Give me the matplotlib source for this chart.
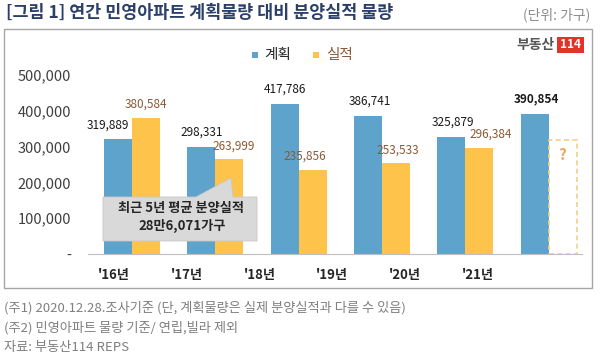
import matplotlib
matplotlib.use("Agg")
import matplotlib.pyplot as plt
from matplotlib.patches import Rectangle, Polygon

plt.rcParams['font.family'] = ['Noto Sans CJK KR', 'DejaVu Sans']

categories = ["'16년", "'17년", "'18년", "'19년", "'20년", "'21년"]
plan = [319889, 298331, 417786, 386741, 325879, 390854]
actual = [380584, 263999, 235856, 253533, 296384]
placeholder_2021 = 318000
yticks = [0, 100000, 200000, 300000, 400000, 500000]
ytick_labels = ["-", "100,000", "200,000", "300,000", "400,000", "500,000"]

W, H = 600, 359
fig = plt.figure(figsize=(6, 3.59), dpi=100)

def fx(px):
    return px / W

def fy(py):
    return 1 - py / H

BLUE = '#5ea3cb'
YELLOW = '#fdc34b'
BROWN = '#8a5a36'

# outer frame
fig.add_artist(Rectangle((fx(4), fy(288)), fx(588), 259 / H, transform=fig.transFigure,
                         fill=False, edgecolor='#a6a6a6', lw=1.0))

ax = fig.add_axes([fx(88), fy(254), fx(494), 179 / H])
n = len(categories)
xs = list(range(n))
bw = 0.336
ax.bar([x - bw / 2 for x in xs], plan, width=bw, color=BLUE, zorder=2)
ax.bar([x + bw / 2 for x in xs[:len(actual)]], actual, width=bw, color=YELLOW, zorder=2)
ax.bar([5 + bw / 2], [placeholder_2021], width=bw, facecolor='none', edgecolor='#f5cf86',
       linestyle=(0, (3, 2)), lw=1.2, zorder=2)
ax.annotate("?", (5 + bw / 2, placeholder_2021), xytext=(0, -5), textcoords='offset points',
            ha='center', va='top', fontsize=11, fontweight='bold', color='#e8a65a')

ax.set_xlim(-0.528, 5.40)
ax.set_ylim(0, 500000)
ax.set_yticks(yticks)
ax.set_yticklabels(ytick_labels, fontsize=10.5, color='#404040')
ax.tick_params(axis='y', length=0, pad=12)
ax.set_xticks([-0.216 + 0.873 * i for i in range(n)])
ax.set_xticklabels(categories, fontsize=9.5, color='#262626', fontweight='bold')
ax.tick_params(axis='x', length=0, pad=10)
for s in ['top', 'right', 'left']:
    ax.spines[s].set_visible(False)
ax.spines['bottom'].set_color('#bfbfbf')
ax.spines['bottom'].set_zorder(3)

plan_dx = [-7, 0, 0, 1, 1, 1]
for i, v in enumerate(plan):
    ax.annotate(f"{v:,}", (i - bw / 2, v), xytext=(plan_dx[i], 6), textcoords='offset points',
                ha='center', va='bottom', fontsize=8.5, color='#1a1a1a',
                fontweight='bold' if i == 5 else 'normal')
act_dx = [0, 3, -6, 1, 8]
for i, v in enumerate(actual):
    ax.annotate(f"{v:,}", (i + bw / 2, v), xytext=(act_dx[i], 5), textcoords='offset points',
                ha='center', va='bottom', fontsize=8.5, color=BROWN)

# callout
pts = [(103, 197), (196, 197), (231, 178), (233, 197), (257, 197), (257, 241), (103, 241)]
fig.add_artist(Polygon([(fx(x), fy(y)) for x, y in pts], closed=True, transform=fig.transFigure,
                       facecolor='#d9d9d9', edgecolor='#c8c8c8', lw=0.6, zorder=5))
fig.text(fx(181), fy(208), "최근 5년 평균 분양실적", ha='center', va='center', fontsize=9.5,
         fontweight='bold', color='#262626', zorder=6)
fig.text(fx(182), fy(226), "28만6,071가구", ha='center', va='center', fontsize=9.5,
         fontweight='bold', color='#262626', zorder=6)

# title
fig.text(fx(6), fy(13), "[그림 1] 연간 민영아파트 계획물량 대비 분양실적 물량", ha='left', va='center',
         fontsize=12.5, fontweight='bold', color='#2b3f6b')
fig.text(fx(590), fy(15), "(단위: 가구)", ha='right', va='center', fontsize=10, color='#8c8c8c')

# legend
fig.add_artist(Rectangle((fx(252), fy(58)), fx(6), 6 / H, transform=fig.transFigure,
                         facecolor=BLUE, edgecolor='none'))
fig.text(fx(264), fy(55), "계획", ha='left', va='center', fontsize=10.5, color='#262626')
fig.add_artist(Rectangle((fx(313), fy(58)), fx(6), 6 / H, transform=fig.transFigure,
                         facecolor=YELLOW, edgecolor='none'))
fig.text(fx(326), fy(55), "실적", ha='left', va='center', fontsize=10.5, color=BROWN)

# logo
fig.text(fx(555), fy(45), "부동산", ha='right', va='center', fontsize=10, fontweight='bold',
         color='#555555')
fig.add_artist(Rectangle((fx(557), fy(53)), fx(27), 16 / H, transform=fig.transFigure,
                         facecolor='#e0332a', edgecolor='none'))
fig.text(fx(570.5), fy(45), "114", ha='center', va='center', fontsize=8.5, fontweight='bold',
         color='white')

# footnotes
notes = ["(주1) 2020.12.28.조사기준 (단, 계획물량은 실제 분양실적과 다를 수 있음)",
         "(주2) 민영아파트 물량 기준/ 연립,빌라 제외",
         "자료: 부동산114 REPS"]
for k, t in enumerate(notes):
    fig.text(fx(4), fy(308 + 19.5 * k), t, ha='left', va='center', fontsize=9.5, color='#7f7f7f')

fig.savefig("out.png", dpi=100)
